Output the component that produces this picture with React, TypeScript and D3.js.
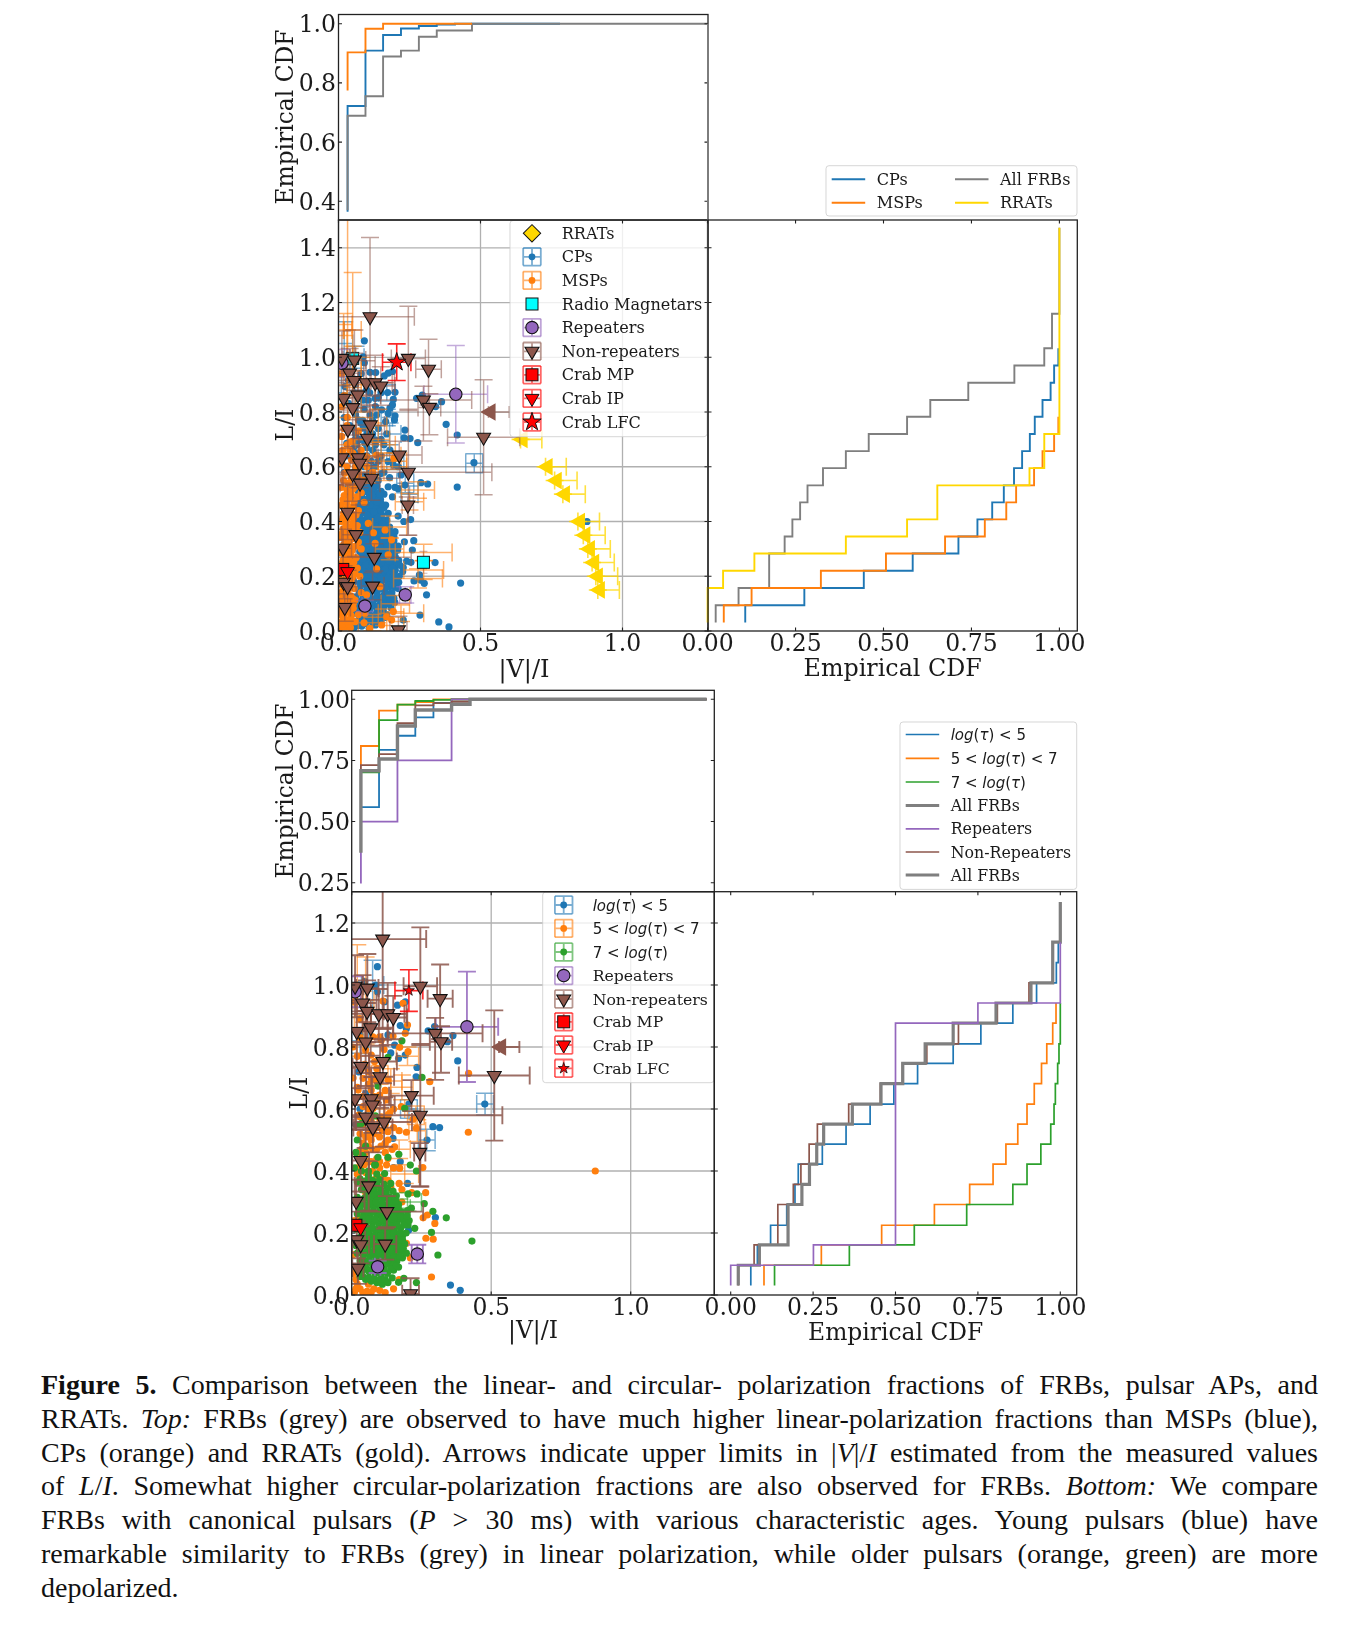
import React from 'react';
import * as d3 from 'd3';

type P = number[];
const C = { blue: '#1f77b4', orange: '#ff7f0e', green: '#2ca02c', purple: '#9467bd', brown: '#8c564b', gray: '#7f7f7f', gold: '#FFD700', cyan: '#00FFFF', red: '#FF0000' };
const SERIF = '"DejaVu Serif", serif';

// FRBs and reference sources: |V|/I, L/I, xerr, yerr up, yerr down (if different)
const nonRepeaters: P[] = [[.012,.996,.03,.1],[.056,.99,.04,.11],[.246,.996,.06,.19],[.317,.956,.045,.11,.13],[.039,.942,.05,.09],[.055,.915,.06,.1],[.097,.907,.1,.08],[.129,.907,.06,.1],[.149,.895,.05,.07],[.018,.85,.03,.1],[.068,.862,.08,.09],[.05,.816,.06,.1],[.299,.844,.17,.05,.15],[.32,.817,.04,.05,.1],[.112,.753,.05,.07],[.033,.737,.03,.07],[.102,.704,.05,.1],[.511,.708,.127,.21],[.012,.633,.03,.1],[.07,.633,.07,.1],[.074,.613,.08,.09],[.214,.643,.08,.05],[.05,.574,.05,.1],[.246,.58,.294,.23],[.116,.558,.1,.08],[.076,.54,.07,.08],[.244,.46,.02,.03,.11],[.032,.434,.03,.1],[.061,.352,.05,.08],[.016,.302,.03,.07],[.126,.269,.13,.05],[.018,.178,.03,.06],[.032,.162,.03,.06],[.12,.164,.04,.05],[.022,.086,.02,.05],[.211,.004,.03,.05],[.111,1.148,.156,.29]];
const frbArrow: P[] = [[.528,.8,.073]];
const repeaters: P[] = [[.413,.865,.112,.178],[.012,.978,.02,.05],[.235,.132,.02,.03],[.093,.091,.01,.02]];
const crabMP: P[] = [[.015,.225,.01,.01]];
const crabIP: P[] = [[.032,.217,.01,.01]];
const crabLFC: P[] = [[.205,.982,.05,.067]];
const magnetars: P[] = [[.05,.996,.02,.02],[.299,.251,.02,.04]];
const rrats: P[] = [[.641,.7,.075],[.729,.6,.073],[.761,.55,.079],[.79,.5,.079],[.843,.4,.076],[.862,.35,.077],[.878,.3,.079],[.893,.25,.078],[.906,.2,.077],[.913,.15,.076]];

// Top scatter
const cpErr: P[] = [[.478,.613,.03,.035],[.235,.54,.03,.035],[.25,.5,.03,.03],[.02,1.05,.03,.08],[.06,1.0,.03,.04],[.17,.78,.02,.03],[.08,.85,.02,.03],[.2,.62,.03,.03],[.15,.66,.03,.035],[.18,.72,.04,.04],[.17,.87,.03,.03],[.03,.9,.02,.03]];
const mspErr: P[] = [[.05,1.1,.03,.21],[.032,1.1,.015,.45],[.018,1.12,.03,.04],[.3,.287,.1,.03],[.3,.223,.07,.035],[.28,.192,.086,.035],[.28,.515,.058,.03],[.25,.472,.05,.03],[.22,.065,.08,.03],[.18,.38,.06,.04],[.15,.64,.07,.05],[.12,.7,.06,.06],[.14,.75,.03,.06],[.1,.68,.1,.06],[.16,.6,.08,.05],[.19,.62,.05,.03],[.08,.9,.05,.1],[.06,.78,.06,.08],[.03,1.0,.03,.1],[.05,.95,.03,.09],[.2,.1,.05,.03],[.16,.05,.07,.03],[.12,.03,.05,.03],[.18,.3,.05,.04],[.1,.58,.04,.04]];
const cpOutliers: P[] = [[.091,1.06],[.087,1.002],[.091,.98],[.111,.945],[.131,.944],[.161,.932],[.175,.942],[.19,.948],[.173,.871],[.199,.872],[.193,.846],[.19,.826],[.14,.853],[.129,.85],[.105,.843],[.087,.843],[.275,.85],[.295,.862],[.363,.838],[.342,.82],[.152,.808],[.181,.814],[.175,.795],[.199,.786],[.197,.771],[.166,.765],[.134,.789],[.111,.789],[.07,.771],[.079,.759],[.087,.741],[.111,.747],[.234,.734],[.231,.706],[.252,.703],[.279,.688],[.379,.755],[.418,.716],[.477,.615],[.418,.526],[.129,.698],[.093,.686],[.058,.698],[.029,.686],[.052,.667],[.181,.661],[.175,.619],[.193,.607],[.211,.6],[.22,.57],[.234,.533],[.29,.542],[.314,.537],[.175,.527],[.199,.525],[.129,.527],[.058,.808],[.035,.832],[.099,.881],[.023,.893],[.035,.917],[.02,.78],[.04,.75],[.06,.72],[.1,.72],[.14,.74],[.15,.7],[.17,.72],[.12,.66],[.15,.64],[.09,.64],[.06,.62],[.03,.64],[.13,.6],[.16,.58],[.11,.58],[.08,.56],[.05,.57],[.02,.58],[.14,.55],[.18,.56],[.1,.52],[.06,.52],[.03,.52],[.21,.52],[.15,.51],
[.21,.42],[.23,.4],[.254,.407],[.199,.363],[.232,.326],[.265,.33],[.26,.296],[.34,.25],[.255,.251],[.24,.255],[.226,.217],[.285,.205],[.266,.183],[.289,.186],[.302,.174],[.43,.175],[.31,.132],[.287,.058],[.228,.04],[.353,.033],[.389,.015],[.166,.46],[.175,.43],[.17,.405],[.128,.442],[.875,.4]];
const cpDense: P[] = [[.055,.012],[.082,.018],[.108,.01],[.13,.022],[.15,.03],[.07,.04],[.098,.045],[.122,.05],[.146,.055],[.17,.06],[.058,.065],[.084,.072],[.11,.078],[.135,.082],[.16,.09],[.185,.085],[.198,.105],[.072,.098],[.097,.104],[.122,.11],[.148,.115],[.173,.118],[.06,.125],[.086,.13],[.111,.138],[.136,.142],[.162,.147],[.188,.14],[.21,.155],[.074,.155],[.099,.162],[.124,.168],[.15,.172],[.176,.176],[.2,.18],[.054,.18],[.088,.19],[.112,.196],[.138,.2],[.163,.204],[.188,.208],[.214,.2],[.07,.212],[.098,.22],[.124,.226],[.15,.23],[.175,.234],[.2,.238],[.228,.232],[.082,.242],[.11,.25],[.136,.256],[.162,.26],[.188,.264],[.212,.258],[.06,.262],[.094,.272],[.12,.28],[.148,.285],[.174,.29],[.198,.288],[.075,.29],[.105,.302],[.132,.31],[.158,.314],[.184,.318],[.21,.31],[.088,.322],[.116,.332],[.144,.338],[.17,.342],[.195,.345],[.07,.345],[.1,.355],[.128,.362],[.155,.368],[.18,.38],[.085,.378],[.113,.388],[.14,.392],[.165,.4],[.07,.4],[.098,.41],[.125,.418],[.152,.424],[.055,.42],[.085,.432],[.11,.44],[.138,.452],[.16,.45],[.07,.455],[.096,.465],[.122,.475],[.148,.48],[.058,.478],[.082,.49],[.108,.5],[.132,.505],[.16,.5],[.19,.49],[.042,.5],[.07,.51],[.095,.525]];
const cpDense2: P[] = [[.068,.02],[.095,.028],[.12,.03],[.142,.04],[.082,.055],[.11,.06],[.134,.066],[.158,.072],[.07,.082],[.097,.088],[.122,.094],[.148,.1],[.172,.1],[.085,.115],[.11,.122],[.135,.126],[.16,.13],[.186,.122],[.074,.14],[.098,.146],[.124,.152],[.15,.156],[.175,.16],[.2,.16],[.086,.172],[.112,.18],[.138,.184],[.163,.188],[.188,.192],[.212,.178],[.1,.205],[.126,.21],[.15,.215],[.176,.22],[.2,.222],[.085,.225],[.112,.234],[.138,.24],[.163,.245],[.19,.248],[.216,.24],[.07,.25],[.098,.256],[.124,.262],[.15,.27],[.175,.274],[.2,.27],[.082,.278],[.108,.286],[.135,.295],[.16,.3],[.186,.3],[.208,.295],[.09,.305],[.118,.316],[.145,.322],[.17,.328],[.195,.33],[.075,.325],[.102,.338],[.13,.346],[.157,.35],[.182,.358],[.086,.36],[.114,.372],[.142,.376],[.168,.384],[.1,.392],[.128,.402],[.152,.408],[.075,.418],[.112,.425],[.138,.436],[.09,.448],[.125,.458],[.15,.465],[.07,.47],[.108,.485],[.135,.49],[.088,.508],[.118,.52],[.05,.53],[.075,.54],[.1,.555],[.125,.565],[.15,.575],[.09,.6],[.115,.62],[.07,.65],[.1,.67],[.13,.68],[.16,.68],[.075,.7],[.11,.7],[.05,.74],[.085,.77],[.12,.77],[.06,.79],[.09,.81],[.13,.82],[.07,.85],[.11,.87],[.15,.87],[.06,.9],[.08,.94]];
const cpDense3: P[] = [[.06,.03],[.08,.035],[.105,.04],[.128,.04],[.15,.045],[.165,.05],[.09,.08],[.115,.09],[.14,.092],[.165,.105],[.18,.105],[.08,.11],[.105,.112],[.13,.118],[.155,.125],[.175,.135],[.195,.12],[.09,.14],[.115,.15],[.14,.155],[.165,.16],[.19,.165],[.075,.175],[.1,.18],[.125,.185],[.15,.19],[.175,.195],[.2,.2],[.09,.2],[.115,.215],[.14,.22],[.165,.225],[.19,.23],[.095,.24],[.125,.245],[.15,.25],[.178,.255],[.205,.25],[.085,.262],[.11,.27],[.138,.275],[.162,.28],[.187,.282],[.095,.29],[.122,.3],[.148,.305],[.172,.31],[.198,.31],[.08,.31],[.105,.32],[.13,.328],[.158,.332],[.182,.338],[.09,.34],[.115,.35],[.142,.358],[.168,.362],[.1,.375],[.128,.385],[.155,.39],[.085,.4],[.112,.405],[.14,.415],[.1,.425],[.125,.435],[.15,.44],[.08,.445],[.11,.46],[.135,.47],[.095,.48],[.12,.495],[.145,.5],[.085,.53],[.11,.54],[.135,.53],[.065,.555],[.09,.57],[.12,.595],[.14,.62],[.08,.62],[.1,.64],[.065,.68],[.12,.72],[.09,.75]];
const mspDense: P[] = [[.006,.01],[.024,.015],[.042,.012],[.012,.035],[.032,.04],[.05,.036],[.006,.06],[.022,.065],[.04,.07],[.014,.09],[.032,.095],[.052,.1],[.006,.115],[.024,.122],[.043,.128],[.014,.145],[.034,.15],[.055,.155],[.007,.172],[.024,.178],[.044,.182],[.016,.2],[.035,.208],[.058,.21],[.006,.228],[.026,.232],[.046,.238],[.016,.258],[.036,.262],[.062,.268],[.008,.285],[.026,.29],[.048,.295],[.018,.315],[.038,.32],[.07,.325],[.006,.342],[.028,.348],[.05,.352],[.016,.372],[.04,.378],[.066,.385],[.008,.4],[.03,.405],[.052,.412],[.018,.43],[.042,.438],[.07,.44],[.008,.46],[.03,.468],[.055,.472],[.02,.495],[.045,.5],[.08,.505],[.01,.525],[.035,.54],[.062,.53],[.087,.551],[.022,.576],[.011,.612],[.046,.625],[.099,.637],[.134,.643],[.195,.631],[.04,.661],[.046,.692],[.011,.711],[.031,.781],[.123,.359],[.129,.32],[.134,.227],[.146,.162],[.175,.278],[.164,.369],[.105,.393],[.193,.071],[.17,.052],[.187,.04],[.152,.022],[.058,.034],[.052,.083],[.058,.113],[.099,.132],[.093,.065],[.187,.333],[.012,.82],[.02,.86],[.01,.94],[.03,.75],[.015,.66],[.055,.58]];
const mspDense2: P[] = [[.015,.025],[.035,.025],[.02,.05],[.045,.055],[.01,.078],[.028,.08],[.042,.09],[.02,.108],[.036,.112],[.05,.118],[.014,.132],[.032,.136],[.02,.16],[.046,.165],[.012,.19],[.03,.192],[.05,.196],[.022,.22],[.042,.222],[.066,.23],[.012,.245],[.032,.248],[.054,.252],[.022,.272],[.044,.278],[.014,.3],[.036,.305],[.06,.31],[.025,.332],[.046,.336],[.014,.358],[.036,.362],[.058,.368],[.026,.388],[.05,.392],[.016,.415],[.04,.42],[.062,.425],[.03,.45],[.052,.456],[.016,.48],[.04,.485],[.066,.49],[.03,.515],[.052,.52],[.018,.55],[.045,.56],[.07,.57],[.03,.6],[.06,.6],[.02,.64],[.05,.65],[.08,.66],[.03,.68],[.07,.73],[.02,.74],[.1,.6],[.12,.58],[.09,.47],[.075,.36],[.08,.3],[.075,.2],[.08,.14],[.07,.06],[.09,.03],[.11,.01]];
const cpPts = [...cpOutliers, ...cpDense, ...cpDense2, ...cpDense3];
const mspPts = [...mspDense, ...mspDense2];

// Bottom scatter
const youngErr: P[] = [[.478,.616,.03,.035],[.269,.5,.03,.035],[.075,1.0,.04,.08],[.205,.6,.03,.03],[.03,.82,.03,.04]];
const midErr: P[] = [[.235,.53,.03,.035],[.18,.67,.04,.04],[.14,.69,.04,.04],[.1,.71,.03,.03],[.02,.95,.015,.18],[.19,.39,.05,.03],[.12,.6,.07,.04],[.2,.77,.04,.03],[.17,.47,.04,.03],[.05,.95,.03,.14],[.04,.88,.03,.1],[.23,.58,.03,.03]];
const oldErr: P[] = [[.2,.3,.05,.03],[.17,.28,.04,.03],[.13,.24,.04,.03]];
const youngPts: P[] = [[.092,1.059],[.086,1.0],[.092,.978],[.164,.935],[.192,.946],[.118,.946],[.174,.869],[.196,.86],[.13,.839],[.154,.806],[.14,.781],[.168,.763],[.192,.774],[.234,.734],[.231,.704],[.274,.852],[.297,.866],[.363,.837],[.343,.817],[.38,.755],[.477,.616],[.205,.616],[.291,.543],[.315,.54],[.023,1.0],[.047,1.011],[.05,.86],[.03,.84],[.025,.72],[.05,.65],[.015,.55],[.03,.6],[.3,.25],[.204,.21],[.2,.36],[.15,.411],[.174,.43],[.148,.505],[.27,.5],[.354,.032],[.389,.015]];
const midOutliers: P[] = [[.112,.948],[.184,.941],[.011,.946],[.029,.892],[.2,.871],[.192,.844],[.148,.835],[.172,.799],[.116,.792],[.202,.785],[.1,.833],[.076,.833],[.106,.822],[.082,.753],[.07,.774],[.047,.744],[.041,.699],[.07,.699],[.082,.694],[.13,.694],[.28,.688],[.419,.715],[.023,.661],[.07,.661],[.1,.645],[.124,.629],[.011,.624],[.041,.608],[.076,.602],[.136,.587],[.178,.608],[.22,.567],[.232,.538],[.029,.575],[.106,.575],[.418,.525],[.873,.4],[.265,.33],[.255,.411],[.172,.409],[.154,.478],[.256,.249],[.271,.258],[.298,.231],[.266,.183],[.292,.18],[.286,.058],[.196,.167],[.13,.527],[.196,.525],[.058,.516],[.118,.484]];
const midDense: P[] = [[.01,.01],[.03,.02],[.055,.012],[.08,.02],[.1,.015],[.06,.035],[.015,.05],[.008,.09],[.005,.13],[.008,.18],[.01,.24],[.03,.25],[.02,.3],[.05,.33],[.07,.345],[.09,.335],[.11,.32],[.04,.36],[.06,.37],[.085,.375],[.11,.38],[.13,.37],[.02,.39],[.05,.395],[.075,.4],[.1,.41],[.125,.42],[.15,.41],[.03,.43],[.06,.43],[.09,.44],[.12,.46],[.145,.47],[.02,.46],[.05,.46],[.075,.47],[.105,.48],[.04,.49],[.07,.5],[.1,.51],[.13,.5],[.03,.52],[.06,.53],[.09,.54],[.12,.55],[.15,.54],[.17,.53],[.025,.58],[.05,.57],[.215,.33],[.19,.25],[.18,.3],[.21,.12],[.005,.7],[.005,.8],
[.02,.41],[.045,.42],[.07,.43],[.1,.43],[.13,.44],[.035,.47],[.06,.48],[.09,.47],[.12,.49],[.05,.51],[.08,.52],[.11,.53],[.04,.55],[.07,.56],[.1,.57],[.13,.58],[.06,.6],[.09,.62],[.15,.6],[.04,.64],[.08,.64],[.12,.66],[.02,.67],[.06,.68],[.1,.69],[.035,.73],[.06,.72],[.09,.73],[.02,.77],[.05,.79],[.03,.83],[.14,.35],[.17,.36],[.18,.34],[.015,.02],[.04,.008],[.07,.01],[.12,.008],[.15,.02],[.02,.035],[.005,.07],[.17,.05]];
const oldOutliers: P[] = [[.18,.82],[.252,.702],[.094,.674],[.13,.767],[.19,.602],[.085,.578],[.035,.554],[.21,.419],[.232,.4],[.13,.444],[.169,.454],[.094,.444],[.082,.419],[.118,.392],[.202,.326],[.234,.326],[.26,.295],[.291,.27],[.339,.249],[.431,.174],[.286,.202],[.309,.129],[.232,.04],[.187,.054],[.168,.041],[.202,.226],[.226,.215],[.2,.272],[.214,.28]];
const oldDense: P[] = [[.03,.06],[.05,.05],[.07,.045],[.09,.04],[.11,.035],[.13,.04],[.145,.055],[.02,.085],[.04,.08],[.062,.075],[.084,.07],[.106,.066],[.128,.07],[.15,.08],[.168,.09],[.03,.11],[.052,.105],[.074,.1],[.096,.096],[.118,.095],[.14,.1],[.162,.11],[.182,.12],[.02,.135],[.042,.13],[.064,.126],[.086,.122],[.108,.125],[.13,.128],[.152,.132],[.174,.14],[.196,.135],[.015,.16],[.037,.158],[.06,.155],[.083,.152],[.106,.15],[.128,.155],[.15,.158],[.172,.162],[.19,.165],[.028,.185],[.05,.182],[.073,.18],[.096,.178],[.118,.18],[.14,.184],[.162,.188],[.182,.19],[.018,.212],[.04,.208],[.063,.206],[.086,.205],[.108,.207],[.13,.21],[.152,.213],[.175,.214],[.195,.2],[.03,.236],[.052,.233],[.075,.232],[.098,.232],[.12,.234],[.143,.237],[.165,.24],[.188,.238],[.206,.24],[.02,.262],[.044,.26],[.066,.258],[.09,.258],[.112,.26],[.135,.262],[.157,.265],[.178,.268],[.032,.288],[.055,.285],[.078,.284],[.1,.285],[.124,.288],[.146,.29],[.168,.292],[.02,.315],[.045,.312],[.068,.31],[.09,.312],[.114,.314],[.136,.316],[.16,.32],[.035,.34],[.058,.337],[.08,.338],[.104,.34],[.128,.345],[.02,.365],[.05,.368],[.075,.37],[.1,.372],[.01,.41],[.035,.4],[.06,.4],[.085,.42],[.015,.46],[.04,.45],[.05,.48],[.02,.5],[.03,.55]];
const oldDense2: P[] = [[.04,.06],[.06,.055],[.08,.055],[.1,.05],[.12,.05],[.05,.09],[.074,.085],[.095,.082],[.117,.08],[.14,.085],[.16,.095],[.04,.118],[.063,.113],[.085,.108],[.107,.11],[.13,.112],[.15,.118],[.172,.125],[.03,.145],[.053,.14],[.075,.138],[.097,.136],[.12,.14],[.142,.145],[.163,.148],[.185,.15],[.026,.17],[.048,.168],[.07,.167],[.095,.165],[.117,.167],[.14,.17],[.16,.175],[.182,.178],[.038,.196],[.06,.194],[.083,.192],[.105,.192],[.128,.196],[.15,.2],[.172,.2],[.028,.222],[.05,.22],[.073,.218],[.096,.218],[.12,.22],[.142,.224],[.163,.226],[.186,.225],[.04,.248],[.062,.246],[.085,.245],[.108,.246],[.13,.248],[.153,.25],[.175,.254],[.198,.255],[.03,.275],[.054,.272],[.077,.27],[.1,.272],[.123,.274],[.145,.278],[.167,.28],[.04,.3],[.064,.298],[.088,.298],[.11,.3],[.135,.302],[.157,.305],[.055,.325],[.078,.324],[.1,.326],[.124,.33],[.148,.335],[.045,.355],[.068,.354],[.09,.356],[.115,.358],[.14,.36],[.06,.385],[.09,.39],[.03,.375]];
const midPts = [...midOutliers, ...midDense];
const oldPts = [...oldOutliers, ...oldDense, ...oldDense2];

// Marginal CDFs: [|V|/I bin edge, CDF]
const topHistCP: P[] = [[.032,.365],[.095,.722],[.157,.909],[.22,.962],[.283,.984],[.346,.992],[.41,.997],[.78,1]];
const topHistMSP: P[] = [[.032,.774],[.095,.903],[.157,.983],[.47,1]];
const topHistFRB: P[] = [[.032,.37],[.095,.689],[.157,.755],[.22,.889],[.283,.909],[.346,.956],[.47,.977],[1.3,1]];
const botBins = [.033,.098,.164,.228,.293,.358,.424,1.272];
const botHistYoung = [.56,.559,.793,.851,.926,.985,1,1];
const botHistMid = [.73,.809,.954,.978,.989,1,1,1];
const botHistOld = [.6,.701,.915,.978,.993,.998,1,1];
const botHistRep = [.247,.5,.5,.75,.75,.75,1,1];
const botHistNon = [.6,.731,.776,.902,.975,.984,.99,1];
const botHistFRB = [.372,.708,.756,.891,.956,.956,.98,1];

// Marginal CDFs against L/I
const topLevels = [.031,.094,.157,.22,.283,.345,.408,.47,.532,.595,.657,.72,.783,.844,.907,.97,1.033,1.096,1.159,1.473];
const topCdfCP = [.107,.275,.444,.583,.713,.767,.809,.842,.871,.894,.916,.93,.952,.975,.985,.997,.997];
const topCdfMSP = [.046,.125,.322,.507,.675,.788,.849,.877,.928,.952,.985,.997,.997];
const topCdfFRB = [.023,.088,.175,.175,.219,.241,.263,.284,.328,.393,.458,.567,.633,.741,.872,.957,.979,.979,1,1];
const topCdfRRAT = [0,0,.044,.133,.393,.567,.653,.653,.915,.957,.957,1,1,1,1,1,1,1,1,1];
const botLevels = [.031,.096,.162,.225,.292,.357,.422,.487,.551,.616,.682,.747,.81,.877,.942,1.007,1.072,1.138,1.268];
const botCdfYoung = [.061,.081,.121,.17,.195,.205,.278,.35,.423,.495,.567,.675,.759,.856,.928,.988,.994,.994];
const botCdfMid = [.101,.275,.458,.618,.725,.796,.835,.871,.899,.921,.943,.959,.977,.987,.987];
const botCdfOld = [.133,.36,.557,.716,.856,.899,.941,.971,.981,.985,.992,.996,1,1,1];
const botCdfRep = [0,.251,.5,.5,.5,.5,.5,.5,.5,.5,.5,.5,.5,.75,1,1,1,1];
const botCdfNon = [.023,.071,.143,.143,.19,.213,.238,.263,.358,.454,.521,.595,.691,.809,.905,.977,.977,1,1];
const botCdfFRB = [.023,.087,.174,.174,.216,.239,.261,.282,.369,.456,.522,.59,.675,.805,.911,.977,.977,1,1];

const vTicks = [0, .5, 1];
const topLTicks = [0, .2, .4, .6, .8, 1, 1.2, 1.4];
const botLTicks = [0, .2, .4, .6, .8, 1, 1.2];
const topCdfTicks = [.4, .6, .8, 1];
const botCdfTicks = [.25, .5, .75, 1];
const cdfXTicks = [0, .25, .5, .75, 1];

const caption: React.ReactNode[] = [
  <><b>Figure 5.</b> Comparison between the linear- and circular- polarization fractions of FRBs, pulsar APs, and</>,
  <>RRATs. <i>Top:</i> FRBs (grey) are observed to have much higher linear-polarization fractions than MSPs (blue),</>,
  <>CPs (orange) and RRATs (gold). Arrows indicate upper limits in |<i>V</i>|/<i>I</i> estimated from the measured values</>,
  <>of <i>L</i>/<i>I</i>. Somewhat higher circular-polarization fractions are also observed for FRBs. <i>Bottom:</i> We compare</>,
  <>FRBs with canonical pulsars (<i>P</i> &gt; 30 ms) with various characteristic ages. Young pulsars (blue) have</>,
  <>remarkable similarity to FRBs (grey) in linear polarization, while older pulsars (orange, green) are more</>,
  <>depolarized.</>,
];
const captionTops = [1368, 1402, 1435.6, 1469, 1502.6, 1536.6, 1570.6];

const sym = (type: any, size: number) => d3.symbol().type(type).size(size)() as string;
const TRI = (size = 84) => sym(d3.symbolTriangle, size);
const DOT_R = 3.6;

function ErrBar({ x, y, xl, xh, yl, yh, color, op, w, cap = 9 }: any) {
  return <g stroke={color} strokeOpacity={op} strokeWidth={w} fill="none">
    <path d={`M${xl},${y}H${xh}M${xl},${y - cap}V${y + cap}M${xh},${y - cap}V${y + cap}`} />
    <path d={`M${x},${yl}V${yh}M${x - cap},${yl}H${x + cap}M${x - cap},${yh}H${x + cap}`} />
  </g>;
}

function Marker({ kind, x, y, small }: any) {
  const t = `translate(${x},${y})`;
  if (kind === 'non') return <path d={TRI()} transform={`${t} rotate(180)`} fill={C.brown} stroke="#111" strokeWidth={1.1} />;
  if (kind === 'ip') return <path d={TRI()} transform={`${t} rotate(180)`} fill={C.red} stroke="#111" strokeWidth={1} />;
  if (kind === 'rep') return <circle cx={x} cy={y} r={6.2} fill={C.purple} stroke="#111" strokeWidth={1.1} />;
  if (kind === 'mp') return <rect x={x - 6} y={y - 6} width={12} height={12} fill={C.red} stroke="#111" strokeWidth={1} />;
  if (kind === 'mag') return <rect x={x - 6} y={y - 6} width={12} height={12} fill={C.cyan} stroke="#111" strokeWidth={1} />;
  if (kind === 'lfc') return <path d={sym(d3.symbolStar, small ? 38 : 105)} transform={t} fill={C.red} stroke="#111" strokeWidth={small ? .8 : 1} />;
  if (kind === 'rrat') return <path d={sym(d3.symbolSquare, 150)} transform={`${t} rotate(45)`} fill={C.gold} stroke="#111" strokeWidth={1} />;
  return null;
}

function Spines({ l, r, t, b, color = '#222' }: any) {
  return <rect x={l} y={t} width={r - l} height={b - t} fill="none" stroke={color} strokeWidth={1.3} />;
}
function TickMarks({ xs = [], ys = [], l, r, t, b, sides }: any) {
  const len = 3.5;
  let d = '';
  xs.forEach((x: number) => {
    if (sides.includes('b')) d += `M${x},${b}V${b - len}`;
    if (sides.includes('t')) d += `M${x},${t}V${t + len}`;
  });
  ys.forEach((y: number) => {
    if (sides.includes('l')) d += `M${l},${y}H${l + len}`;
    if (sides.includes('r')) d += `M${r},${y}H${r - len}`;
  });
  return <path d={d} stroke="#222" strokeWidth={1.1} fill="none" />;
}
const Tx = ({ x, y, children, size = 23.5, anchor = 'middle', rot }: any) => (
  <text x={x} y={y} fontFamily={SERIF} fontSize={size} textAnchor={anchor} fill="#1a1a1a"
    transform={rot ? `rotate(-90 ${x} ${y})` : undefined}>{children}</text>
);

const stepPath = (xs: number[], ys: number[], sx: any, sy: any) =>
  d3.line<number>().x(v => sx(v)).y((_, i) => sy(ys[i])).curve(d3.curveStepBefore)(xs) as string;

function MathLabel({ parts, x, y }: any) {
  return <text x={x} y={y} fontFamily='"DejaVu Sans", sans-serif' fontSize={15} fill="#1a1a1a" xmlSpace="preserve">
    {parts.map((p: any, i: number) => <tspan key={i} fontStyle={p[1] ? 'italic' : 'normal'}>{p[0]}</tspan>)}
  </text>;
}
const LOG1 = [['log', 1], ['(', 0], ['τ', 1], [') < 5', 0]];
const LOG2 = [['5 < ', 0], ['log', 1], ['(', 0], ['τ', 1], [') < 7', 0]];
const LOG3 = [['7 < ', 0], ['log', 1], ['(', 0], ['τ', 1], [')', 0]];

function ScatterLegend({ box, mx, tx, rows, size }: any) {
  return <g>
    <rect x={box[0]} y={box[1]} width={box[2] - box[0]} height={box[3] - box[1]} rx={3} fill="#fff" fillOpacity={.8} stroke="#ccc" strokeOpacity={.8} />
    {rows.map((row: any, i: number) => {
      const { y, kind, color, label, math, err } = row;
      return <g key={i}>
        {err && <ErrBar x={mx} y={y} xl={mx - 8.8} xh={mx + 8.8} yl={y - 8.8} yh={y + 8.8} color={color} op={.6} w={1.8} cap={8.8} />}
        {kind === 'dot' && <circle cx={mx} cy={y} r={3.4} fill={color} />}
        {kind !== 'dot' && <Marker kind={kind} x={mx} y={y} small={row.small} />}
        {math ? <MathLabel parts={math} x={tx} y={y + 5.5} /> : <Tx x={tx} y={y + 5.5} size={size} anchor="start">{label}</Tx>}
      </g>;
    })}
  </g>;
}

function LineLegend({ box, rows, size }: any) {
  return <g>
    <rect x={box[0]} y={box[1]} width={box[2] - box[0]} height={box[3] - box[1]} rx={3} fill="#fff" fillOpacity={.8} stroke="#ccc" strokeOpacity={.8} />
    {rows.map((r: any, i: number) => <g key={i}>
      <line x1={r.x} x2={r.x + 33.5} y1={r.y} y2={r.y} stroke={r.color} strokeWidth={r.w} />
      {r.math ? <MathLabel parts={r.math} x={r.x + 45} y={r.y + 5.5} /> : <Tx x={r.x + 45} y={r.y + 5.5} size={size} anchor="start">{r.label}</Tx>}
    </g>)}
  </g>;
}

function Scatter({ id, sx, sy, box, pulsarErr, pulsarPts, extras, frbOp, frbW, starSmall }: any) {
  const [l, r, t, b] = box;
  const eb = (p: P, color: string, op: number, w: number) => (
    <ErrBar x={sx(p[0])} y={sy(p[1])} xl={sx(p[0] - p[2])} xh={sx(p[0] + p[2])} yl={sy(p[1] - (p[4] ?? p[3]))} yh={sy(p[1] + p[3])} color={color} op={op} w={w} />
  );
  return <g clipPath={`url(#${id})`}>
    <clipPath id={id}><rect x={l} y={t} width={r - l} height={b - t} /></clipPath>
    {pulsarPts.map((s: any, si: number) => <g key={si}>
      {pulsarErr[si].map((p: P, i: number) => <g key={i}>{eb(p, s.color, .6, 1.5)}</g>)}
      {s.pts.map((p: P, i: number) => <circle key={i} cx={sx(p[0])} cy={sy(p[1])} r={DOT_R} fill={s.color} />)}
    </g>)}
    {extras}
    {repeaters.map((p, i) => <g key={i}>{eb(p, C.purple, frbOp, frbW)}</g>)}
    {nonRepeaters.map((p, i) => <g key={i}>{eb(p, C.brown, frbOp, frbW)}</g>)}
    {frbArrow.map((p, i) => <g key={i}>
      <ErrBar x={sx(p[0])} y={sy(p[1])} xl={sx(p[0])} xh={sx(p[0] + p[2])} yl={sy(p[1])} yh={sy(p[1])} color={C.brown} op={frbOp} w={frbW} cap={6} />
      <path d={TRI(135)} transform={`translate(${sx(p[0]) + 2},${sy(p[1])}) rotate(-90)`} fill={C.brown} />
    </g>)}
    {crabLFC.map((p, i) => <g key={i}>{eb(p, C.red, .85, 1.6)}</g>)}
    {repeaters.map((p, i) => <Marker key={i} kind="rep" x={sx(p[0])} y={sy(p[1])} />)}
    {nonRepeaters.map((p, i) => <Marker key={i} kind="non" x={sx(p[0])} y={sy(p[1])} />)}
    {crabMP.map((p, i) => <Marker key={i} kind="mp" x={sx(p[0])} y={sy(p[1])} />)}
    {crabIP.map((p, i) => <Marker key={i} kind="ip" x={sx(p[0])} y={sy(p[1])} />)}
    {crabLFC.map((p, i) => <Marker key={i} kind="lfc" x={sx(p[0])} y={sy(p[1])} small={starSmall} />)}
  </g>;
}

function Grid({ sx, sy, box, xs, ys }: any) {
  const [l, r, t, b] = box;
  return <g stroke="#b0b0b0" strokeWidth={1.3}>
    {xs.map((v: number) => <line key={v} x1={sx(v)} x2={sx(v)} y1={t} y2={b} />)}
    {ys.map((v: number) => <line key={v} x1={l} x2={r} y1={sy(v)} y2={sy(v)} />)}
  </g>;
}

export default function App() {
  // Top figure
  const tBox = [338.5, 708, 220, 631];
  const tV = d3.scaleLinear().domain([0, 1]).range([338.5, 622.5]);
  const tL = d3.scaleLinear().domain([0, 1.4]).range([631, 247.8]);
  const tC = d3.scaleLinear().domain([.4, 1]).range([201.3, 23.7]);
  const tR = d3.scaleLinear().domain([0, 1]).range([707.6, 1059.4]);
  // Bottom figure
  const bBox = [351.7, 714.3, 891.7, 1295];
  const bV = d3.scaleLinear().domain([0, 1]).range([351.7, 630.7]);
  const bL = d3.scaleLinear().domain([0, 1]).range([1295, 985]);
  const bC = d3.scaleLinear().domain([.25, 1]).range([882.7, 699.3]);
  const bR = d3.scaleLinear().domain([0, 1]).range([730.7, 1060.3]);

  const goldBars = <g>
    {rrats.map((p, i) => <g key={i}>
      <ErrBar x={tV(p[0])} y={tL(p[1])} xl={tV(p[0])} xh={tV(p[0] + p[2])} yl={tL(p[1])} yh={tL(p[1])} color={C.gold} op={.75} w={1.6} cap={9} />
      <path d={TRI(135)} transform={`translate(${tV(p[0]) + 2},${tL(p[1])}) rotate(-90)`} fill={C.gold} />
    </g>)}
  </g>;

  const topRows = [
    { y: 233.3, kind: 'rrat', label: 'RRATs' },
    { y: 256.8, kind: 'dot', color: C.blue, err: 1, label: 'CPs' },
    { y: 280.4, kind: 'dot', color: C.orange, err: 1, label: 'MSPs' },
    { y: 304, kind: 'mag', label: 'Radio Magnetars' },
    { y: 327.6, kind: 'rep', color: C.purple, err: 1, label: 'Repeaters' },
    { y: 351.3, kind: 'non', color: C.brown, err: 1, label: 'Non-repeaters' },
    { y: 374.8, kind: 'mp', color: C.red, err: 1, label: 'Crab MP' },
    { y: 398.4, kind: 'ip', color: C.red, err: 1, label: 'Crab IP' },
    { y: 422, kind: 'lfc', color: C.red, err: 1, label: 'Crab LFC' },
  ];
  const botRows = [
    { y: 905, kind: 'dot', color: C.blue, err: 1, math: LOG1 },
    { y: 928.4, kind: 'dot', color: C.orange, err: 1, math: LOG2 },
    { y: 952, kind: 'dot', color: C.green, err: 1, math: LOG3 },
    { y: 975.6, kind: 'rep', color: C.purple, err: 1, label: 'Repeaters' },
    { y: 999, kind: 'non', color: C.brown, err: 1, label: 'Non-repeaters' },
    { y: 1021.8, kind: 'mp', color: C.red, err: 1, label: 'Crab MP' },
    { y: 1045, kind: 'ip', color: C.red, err: 1, label: 'Crab IP' },
    { y: 1068.3, kind: 'lfc', color: C.red, err: 1, small: 1, label: 'Crab LFC' },
  ];
  const botHist = [
    { d: botHistYoung, c: C.blue, w: 1.8 }, { d: botHistMid, c: C.orange, w: 1.8 }, { d: botHistOld, c: C.green, w: 1.8 },
    { d: botHistRep, c: C.purple, w: 1.8 }, { d: botHistNon, c: C.brown, w: 1.8 }, { d: botHistFRB, c: C.gray, w: 3.4 },
  ];
  const botCdf = [
    { d: botCdfYoung, c: C.blue, w: 1.7 }, { d: botCdfMid, c: C.orange, w: 1.7 }, { d: botCdfOld, c: C.green, w: 1.7 },
    { d: botCdfNon, c: C.brown, w: 1.7 }, { d: botCdfFRB, c: C.gray, w: 3.2 }, { d: botCdfRep, c: C.purple, w: 1.7 },
  ];
  const W = 1.9;

  return <div>
    <svg width={1367} height={1634} style={{ position: 'absolute', left: 0, top: 0, background: '#fff', filter: 'blur(0.35px)' }}>
      {/* ---- Top figure ---- */}
      <Grid sx={tV} sy={tL} box={tBox} xs={vTicks} ys={topLTicks} />
      <Scatter id="clipT" sx={tV} sy={tL} box={tBox} frbOp={.55} frbW={1.5}
        pulsarErr={[cpErr, mspErr]} pulsarPts={[{ color: C.blue, pts: cpPts }, { color: C.orange, pts: mspPts }]}
        extras={<g>{goldBars}{magnetars.map((p, i) => <g key={i}>
          <ErrBar x={tV(p[0])} y={tL(p[1])} xl={tV(p[0] - p[2])} xh={tV(p[0] + p[2])} yl={tL(p[1] - p[3])} yh={tL(p[1] + p[3])} color={C.brown} op={.4} w={1.2} cap={4} />
          <Marker kind="mag" x={tV(p[0])} y={tL(p[1])} />
        </g>)}</g>} />
      <ScatterLegend box={[510, 220.5, 707, 436.7]} mx={532} tx={561.7} rows={topRows} size={16.1} />
      <Spines l={338.5} r={708} t={220} b={631} />
      <TickMarks xs={vTicks.map(v => tV(v))} ys={topLTicks.map(v => tL(v))} l={338.5} r={708} t={220} b={631} sides="lrtb" />

      <path d={stepPath(topHistCP.map(p => p[0]), topHistCP.map(p => p[1]), tV, tC)} fill="none" stroke={C.blue} strokeWidth={W} />
      <path d={stepPath(topHistFRB.map(p => p[0]), topHistFRB.map(p => p[1]), tV, tC)} fill="none" stroke={C.gray} strokeWidth={W} />
      <path d={stepPath(topHistMSP.map(p => p[0]), topHistMSP.map(p => p[1]), tV, tC)} fill="none" stroke={C.orange} strokeWidth={W} />
      <Spines l={338.5} r={708} t={14.5} b={220} />
      <TickMarks ys={topCdfTicks.map(v => tC(v))} l={338.5} r={708} sides="lr" />
      <line x1={708} x2={708} y1={23.7} y2={631} stroke={C.gray} strokeWidth={1.8} />

      <path d={stepPath(topCdfCP, topLevels, tR, tL)} fill="none" stroke={C.blue} strokeWidth={W} />
      <path d={stepPath(topCdfFRB, topLevels, tR, tL)} fill="none" stroke={C.gray} strokeWidth={W} />
      <path d={stepPath(topCdfMSP, topLevels, tR, tL)} fill="none" stroke={C.orange} strokeWidth={W} />
      <path d={stepPath(topCdfRRAT, topLevels, tR, tL)} fill="none" stroke={C.gold} strokeWidth={W} />
      <Spines l={708} r={1077.3} t={220} b={631} />
      <TickMarks xs={cdfXTicks.map(v => tR(v))} ys={topLTicks.map(v => tL(v))} l={708} r={1077.3} t={220} b={631} sides="ltb" />
      <LineLegend box={[826, 165.7, 1077, 216]} size={16.1} rows={[
        { x: 831.7, y: 179.3, color: C.blue, w: W, label: 'CPs' }, { x: 831.7, y: 202.7, color: C.orange, w: W, label: 'MSPs' },
        { x: 955, y: 179.3, color: C.gray, w: W, label: 'All FRBs' }, { x: 955, y: 202.7, color: C.gold, w: W, label: 'RRATs' },
      ]} />

      {topCdfTicks.map(v => <Tx key={v} x={336} y={tC(v) + 8.5} anchor="end">{v.toFixed(1)}</Tx>)}
      {topLTicks.map(v => <Tx key={v} x={336} y={tL(v) + 8.5} anchor="end">{v.toFixed(1)}</Tx>)}
      {vTicks.map(v => <Tx key={v} x={tV(v)} y={651}>{v.toFixed(1)}</Tx>)}
      {cdfXTicks.map(v => <Tx key={v} x={tR(v)} y={651}>{v.toFixed(2)}</Tx>)}
      <Tx x={293} y={117} rot={1} size={23.4}>Empirical CDF</Tx>
      <Tx x={293} y={425} rot={1}>L/I</Tx>
      <Tx x={524} y={677} size={24}>|V|/I</Tx>
      <Tx x={892.7} y={676} size={23.8}>Empirical CDF</Tx>

      {/* ---- Bottom figure ---- */}
      <Grid sx={bV} sy={bL} box={bBox} xs={vTicks} ys={botLTicks} />
      <Scatter id="clipB" sx={bV} sy={bL} box={bBox} frbOp={.85} frbW={1.9} starSmall={1}
        pulsarErr={[youngErr, midErr, oldErr]} pulsarPts={[{ color: C.blue, pts: youngPts }, { color: C.orange, pts: midPts }, { color: C.green, pts: oldPts }]} />
      <ScatterLegend box={[542.7, 892, 714, 1082.7]} mx={563.7} tx={592.7} rows={botRows} size={15.7} />
      <Spines l={351.7} r={714.3} t={891.7} b={1295} />
      <TickMarks xs={vTicks.map(v => bV(v))} ys={botLTicks.map(v => bL(v))} l={351.7} r={714.3} t={891.7} b={1295} sides="lrtb" />

      {botHist.map((s, i) => <path key={i} d={stepPath(botBins, s.d, bV, bC)} fill="none" stroke={s.c} strokeWidth={s.w} />)}
      <Spines l={351.7} r={714.3} t={690.3} b={891.7} />
      <TickMarks ys={botCdfTicks.map(v => bC(v))} l={351.7} r={714.3} sides="lr" />

      {botCdf.map((s, i) => <path key={i} d={stepPath(s.d, botLevels, bR, bL)} fill="none" stroke={s.c} strokeWidth={s.w} />)}
      <Spines l={714.3} r={1076.7} t={891.7} b={1295} />
      <TickMarks xs={cdfXTicks.map(v => bR(v))} ys={botLTicks.map(v => bL(v))} l={714.3} r={1076.7} t={891.7} b={1295} sides="ltb" />
      <LineLegend box={[900, 722, 1076.7, 889.4]} size={15.8} rows={[
        { x: 905.7, y: 734.5, color: C.blue, w: 1.7, math: LOG1 }, { x: 905.7, y: 758.3, color: C.orange, w: 1.7, math: LOG2 },
        { x: 905.7, y: 782, color: C.green, w: 1.7, math: LOG3 }, { x: 905.7, y: 805.6, color: C.gray, w: 3, label: 'All FRBs' },
        { x: 905.7, y: 828.8, color: C.purple, w: 1.7, label: 'Repeaters' }, { x: 905.7, y: 852, color: C.brown, w: 1.7, label: 'Non-Repeaters' },
        { x: 905.7, y: 875, color: C.gray, w: 3, label: 'All FRBs' },
      ]} />

      {botCdfTicks.map(v => <Tx key={v} x={350} y={bC(v) + 8.5} anchor="end">{v.toFixed(2)}</Tx>)}
      {botLTicks.map(v => <Tx key={v} x={350} y={bL(v) + 8.5} anchor="end">{v.toFixed(1)}</Tx>)}
      {vTicks.map(v => <Tx key={v} x={bV(v)} y={1314.5}>{v.toFixed(1)}</Tx>)}
      {cdfXTicks.map(v => <Tx key={v} x={bR(v)} y={1314.5}>{v.toFixed(2)}</Tx>)}
      <Tx x={293} y={791} rot={1} size={23.4}>Empirical CDF</Tx>
      <Tx x={307} y={1093} rot={1}>L/I</Tx>
      <Tx x={533} y={1338}>|V|/I</Tx>
      <Tx x={895.7} y={1339.5} size={23.4}>Empirical CDF</Tx>
    </svg>
    {caption.map((line, i) => (
      <div key={i} style={{
        position: 'absolute', left: 41, top: captionTops[i], width: 1277, height: 34, lineHeight: '34px',
        fontFamily: '"Liberation Serif", serif', fontSize: 28, color: '#111',
        textAlign: 'justify', textAlignLast: i < 6 ? 'justify' : 'left',
      }}>{line}</div>
    ))}
  </div>;
}
